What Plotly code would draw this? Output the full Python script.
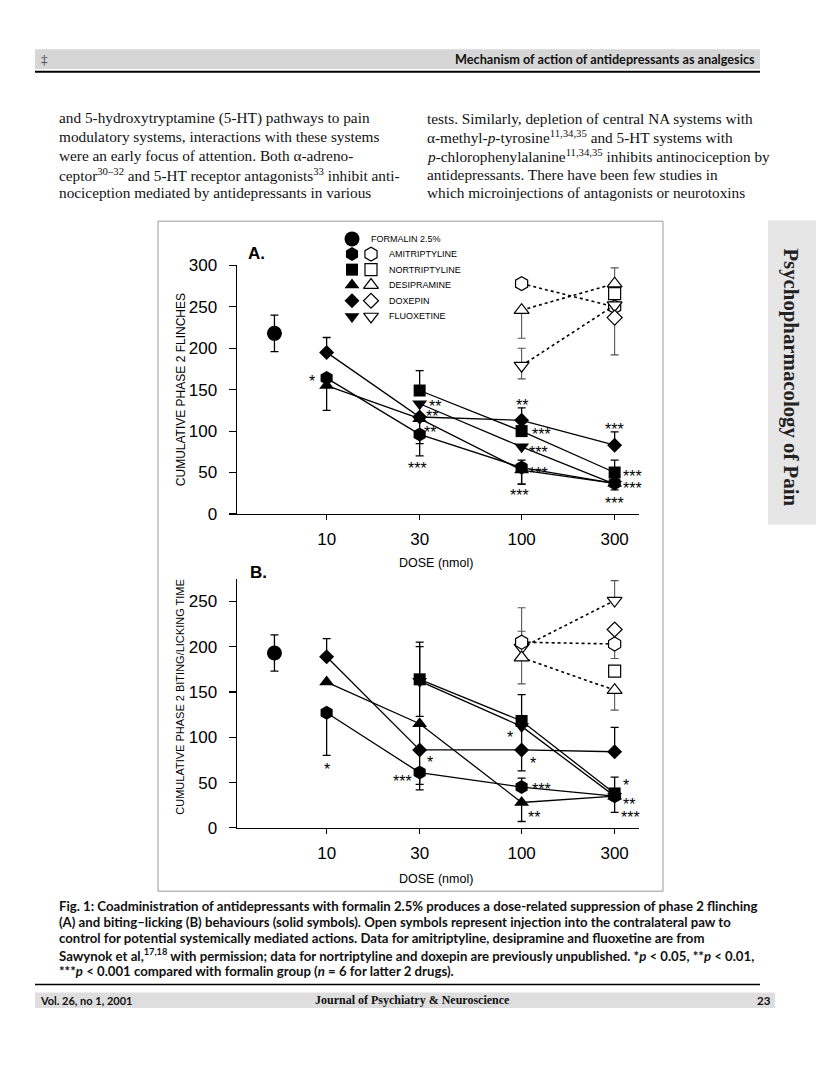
import math
import plotly.graph_objects as go

# ---------------- data ----------------
dose_ticks = [10, 30, 100, 300]
dose_ticktext = ["10", "30", "100", "300"]
formalin_pos = [5.4]          # formalin-only group plotted left of 10 nmol

formalin_a = [218]; formalin_a_err = [22]
formalin_b = [193]; formalin_b_err = [20]

doses4 = [10, 30, 100, 300]
doses3 = [30, 100, 300]
contra2 = [100, 300]
contra1 = [300]

# Panel A: cumulative phase 2 flinches (solid = ipsilateral)
ami_a = [164, 96, 56, 37]; ami_a_up = [0, 0, 9, 0];   ami_a_dn = [0, 11, 20, 0]
nor_a = [149, 100, 50];    nor_a_up = [24, 0, 15];    nor_a_dn = [0, 0, 0]
des_a = [155, 115, 53, 37]; des_a_up = [0, 0, 0, 0];  des_a_dn = [30, 45, 17, 8]
dox_a = [195, 117, 113, 83]; dox_a_up = [18, 0, 15, 16]; dox_a_dn = [0, 0, 0, 0]
flu_a = [133, 81, 36];     flu_a_up = [0, 0, 0];      flu_a_dn = [0, 0, 0]

# Panel A open (contralateral)
ami_a_o = [278, 250]; ami_a_o_up = [0, 0];  ami_a_o_dn = [0, 0]
des_a_o = [246, 278]; des_a_o_up = [0, 19]; des_a_o_dn = [34, 0]
flu_a_o = [179, 252]; flu_a_o_up = [21, 0]; flu_a_o_dn = [16, 0]
nor_a_o = [266];      nor_a_o_up = [0];     nor_a_o_dn = [0]
dox_a_o = [237];      dox_a_o_up = [0];     dox_a_o_dn = [45]

# Panel B: cumulative phase 2 biting/licking time
ami_b = [127, 61, 45, 35]; ami_b_up = [0, 0, 10, 0];  ami_b_dn = [47, 19, 0, 0]
nor_b = [164, 118, 38];    nor_b_up = [41, 29, 18];   nor_b_dn = [41, 0, 0]
des_b = [161, 115, 28, 35]; des_b_up = [0, 0, 0, 0];  des_b_dn = [0, 30, 21, 0]
dox_b = [189, 86, 86, 84]; dox_b_up = [20, 0, 0, 27]; dox_b_dn = [0, 38, 23, 0]
flu_b = [162, 112, 35];    flu_b_up = [38, 0, 0];     flu_b_dn = [0, 26, 18]

ami_b_o = [205, 203]; ami_b_o_up = [38, 0]; ami_b_o_dn = [0, 16]
des_b_o = [188, 152]; des_b_o_up = [0, 0];  des_b_o_dn = [29, 22]
flu_b_o = [199, 251]; flu_b_o_up = [18, 22]; flu_b_o_dn = [0, 0]
nor_b_o = [173];      nor_b_o_up = [0];     nor_b_o_dn = [0]
dox_b_o = [219];      dox_b_o_up = [0];     dox_b_o_dn = [0]

# significance stars: dose, value, label, horizontal shift (px)
stars_a_dose = [10, 30, 30, 30, 30, 100, 100, 100, 100, 100, 300, 300, 300, 300]
stars_a_val = [163, 133, 121, 102, 59, 135, 100, 78, 52, 26, 106, 49, 34, 16]
stars_a_txt = ["*", "**", "**", "**", "***", "**", "***", "***", "***", "***", "***", "***", "***", "***"]
stars_a_dx = [-15, 15, 12, 10, -2, 0, 20, 17, 17, -2, 0, 18, 18, 0]

stars_b_dose = [10, 30, 30, 100, 100, 100, 100, 300, 300, 300]
stars_b_val = [68, 76, 54, 103, 74, 46, 15, 50, 29, 15]
stars_b_txt = ["*", "*", "***", "*", "*", "***", "**", "*", "**", "***"]
stars_b_dx = [0, 10, -17, -12, 11, 20, 12, 11, 14, 16]

legend_names = ["FORMALIN 2.5%", "AMITRIPTYLINE", "NORTRIPTYLINE", "DESIPRAMINE", "DOXEPIN", "FLUOXETINE"]
legend_symbols = ["circle", "hexagon", "square", "triangle-up", "diamond", "triangle-down"]
sizes = {"circle": 15, "hexagon": 14, "square": 12, "triangle-up": 13, "diamond": 11.5, "triangle-down": 13}

# ---------------- page geometry (pixels) ----------------
W, H = 816, 1080
def px(x):
    return x / W
def py(y):
    return 1 - y / H

AX_L, AX_R = 237, 639
A_TOP, A_BOT = 261, 514
B_TOP, B_BOT = 580, 833.5
xrange_log = [math.log10(3.47), math.log10(400)]

fig = go.Figure()
SANS = "Liberation Sans, Arial, sans-serif"

def series(x, y, up, dn, sym, xa, ya, open_=False):
    fig.add_trace(go.Scatter(
        x=x, y=y, mode="lines+markers", xaxis=xa, yaxis=ya,
        line=dict(color="black", width=1.3 if not open_ else 1.6, dash="dot" if open_ else "solid"),
        marker=dict(symbol=sym, size=sizes[sym],
                    color="white" if open_ else "black",
                    line=dict(color="black", width=1.2 if open_ else 0)),
        error_y=dict(type="data", symmetric=False, array=up, arrayminus=dn,
                     color="#555" if open_ else "black", thickness=1.1 if open_ else 1.3, width=4),
        showlegend=False, hoverinfo="skip", cliponaxis=False))

for xa, ya, fy, fe, sets, opens in [
    ("x", "y", formalin_a, formalin_a_err,
     [(doses3, nor_a, nor_a_up, nor_a_dn, "square"),
      (doses3, flu_a, flu_a_up, flu_a_dn, "triangle-down"),
      (doses4, dox_a, dox_a_up, dox_a_dn, "diamond"),
      (doses4, des_a, des_a_up, des_a_dn, "triangle-up"),
      (doses4, ami_a, ami_a_up, ami_a_dn, "hexagon")],
     [(contra2, ami_a_o, ami_a_o_up, ami_a_o_dn, "hexagon"),
      (contra2, des_a_o, des_a_o_up, des_a_o_dn, "triangle-up"),
      (contra2, flu_a_o, flu_a_o_up, flu_a_o_dn, "triangle-down"),
      (contra1, nor_a_o, nor_a_o_up, nor_a_o_dn, "square"),
      (contra1, dox_a_o, dox_a_o_up, dox_a_o_dn, "diamond")]),
    ("x2", "y2", formalin_b, formalin_b_err,
     [(doses3, nor_b, nor_b_up, nor_b_dn, "square"),
      (doses3, flu_b, flu_b_up, flu_b_dn, "triangle-down"),
      (doses4, dox_b, dox_b_up, dox_b_dn, "diamond"),
      (doses4, des_b, des_b_up, des_b_dn, "triangle-up"),
      (doses4, ami_b, ami_b_up, ami_b_dn, "hexagon")],
     [(contra2, flu_b_o, flu_b_o_up, flu_b_o_dn, "triangle-down"),
      (contra2, ami_b_o, ami_b_o_up, ami_b_o_dn, "hexagon"),
      (contra2, des_b_o, des_b_o_up, des_b_o_dn, "triangle-up"),
      (contra1, nor_b_o, nor_b_o_up, nor_b_o_dn, "square"),
      (contra1, dox_b_o, dox_b_o_up, dox_b_o_dn, "diamond")]),
]:
    for s in opens:
        series(*s, xa, ya, open_=True)
    for s in sets:
        series(*s, xa, ya)
    series(formalin_pos, fy, fe, fe, "circle", xa, ya)

# legend keys drawn on a full-page overlay axis (pixel units)
leg_rows = [234, 249.5, 265.3, 281, 297, 313]
leg_text_x = [369, 387, 387, 387, 387, 387]
for i, (nm, sym) in enumerate(zip(legend_names, legend_symbols)):
    fig.add_trace(go.Scatter(x=[352], y=[leg_rows[i]], mode="markers", xaxis="x3", yaxis="y3",
                             marker=dict(symbol=sym, size=sizes[sym], color="black", line=dict(width=0)),
                             showlegend=False, hoverinfo="skip", cliponaxis=False))
    if i > 0:
        fig.add_trace(go.Scatter(x=[371], y=[leg_rows[i]], mode="markers", xaxis="x3", yaxis="y3",
                                 marker=dict(symbol=sym, size=sizes[sym], color="white",
                                             line=dict(color="black", width=1.2)),
                                 showlegend=False, hoverinfo="skip", cliponaxis=False))

ann = []
def txt(x, y, s, size, family=SANS, xanchor="left", color="black", angle=0, yanchor="middle"):
    ann.append(dict(x=x, y=y, xref="x3", yref="y3", text=s, showarrow=False,
                    xanchor=xanchor, yanchor=yanchor, textangle=angle,
                    font=dict(size=size, family=family, color=color)))

for i, nm in enumerate(legend_names):
    txt(leg_text_x[i], leg_rows[i], nm, 9)

for d, v, t, dx in zip(stars_a_dose, stars_a_val, stars_a_txt, stars_a_dx):
    ann.append(dict(x=math.log10(d), y=v, xref="x", yref="y", text=t, showarrow=False,
                    xshift=dx, yshift=-3, font=dict(size=16, family=SANS, color="black")))
for d, v, t, dx in zip(stars_b_dose, stars_b_val, stars_b_txt, stars_b_dx):
    ann.append(dict(x=math.log10(d), y=v, xref="x2", yref="y2", text=t, showarrow=False,
                    xshift=dx, yshift=-3, font=dict(size=16, family=SANS, color="black")))

# panel labels & axis titles
txt(246, 249, "<b>A.</b>", 17)
txt(248, 574, "<b>B.</b>", 17)
txt(181, 388, "CUMULATIVE PHASE 2 FLINCHES", 12, xanchor="center", angle=-90)
txt(180, 700, "CUMULATIVE PHASE 2 BITING/LICKING TIME", 11, xanchor="center", angle=-90)
txt(436, 564, "DOSE (nmol)", 12.5, xanchor="center")
txt(436, 886, "DOSE (nmol)", 12.5, xanchor="center")

# page text
SERIF = "Liberation Serif, Times New Roman, serif"
CAP = "Lato, Open Sans, sans-serif"
left_col = [
    "and 5-hydroxytryptamine (5-HT) pathways to pain",
    "modulatory systems, interactions with these systems",
    "were an early focus of attention. Both \u03b1-adreno-",
    "ceptor<sup>30\u201332</sup> and 5-HT receptor antagonists<sup>33</sup> inhibit anti-",
    "nociception mediated by antidepressants in various",
]
right_col = [
    "tests. Similarly, depletion of central NA systems with",
    "\u03b1-methyl-<i>p</i>-tyrosine<sup>11,34,35</sup> and 5-HT systems with",
    "<i>p</i>-chlorophenylalanine<sup>11,34,35</sup> inhibits antinociception by",
    "antidepressants. There have been few studies in",
    "which microinjections of antagonists or neurotoxins",
]
body_y = [111, 130, 149, 168, 187]
for yy, s in zip(body_y, left_col):
    txt(57, yy, s, 15.3, family=SERIF, color="#111")
for yy, s in zip(body_y, right_col):
    txt(425, yy, s, 15.3, family=SERIF, color="#111")

caption = [
    "Fig. 1: Coadministration of antidepressants with formalin 2.5% produces a dose-related suppression of phase 2 flinching",
    "(A) and biting\u2013licking (B) behaviours (solid symbols). Open symbols represent injection into the contralateral paw to",
    "control for potential systemically mediated actions. Data for amitriptyline, desipramine and fluoxetine are from",
    "Sawynok et al,<sup>17,18</sup> with permission; data for nortriptyline and doxepin are previously unpublished. *<i>p</i> &lt; 0.05, **<i>p</i> &lt; 0.01,",
    "***<i>p</i> &lt; 0.001 compared with formalin group (<i>n</i> = 6 for latter 2 drugs).",
]
cap_y = [913, 929.5, 946, 962.5, 979]
for yy, s in zip(cap_y, caption):
    txt(57, yy, "<b>" + s + "</b>", 13.2, family=CAP, color="#111")

txt(757, 51, "<b>Mechanism of action of antidepressants as analgesics</b>", 12.7, family=CAP, xanchor="right", color="#111")
txt(44, 51, "\u2021", 13, family=SERIF, xanchor="center", color="#333")
txt(38, 1009, "<b>Vol. 26, no 1, 2001</b>", 11, family=CAP, color="#111")
txt(412, 1009, "<b>Journal of Psychiatry &amp; Neuroscience</b>", 12, family=SERIF, xanchor="center", color="#111")
txt(773, 1009, "<b>23</b>", 11.5, family=CAP, xanchor="right", color="#111")
txt(791, 375, "<b>Psychopharmacology of Pain</b>", 20.8, family=SERIF, xanchor="center", angle=90, color="#222")

shapes = [
    dict(type="rect", xref="x3", yref="y3", x0=35, x1=760, y0=41, y1=61, fillcolor="#d6d6d6",
         line=dict(width=0), layer="below"),
    dict(type="line", xref="x3", yref="y3", x0=35, x1=760, y0=64, y1=64, line=dict(color="black", width=2)),
    dict(type="rect", xref="x3", yref="y3", x0=158, x1=663, y0=216, y1=898,
         line=dict(color="#9a9a9a", width=1), layer="below"),
    dict(type="line", xref="x3", yref="y3", x0=35, x1=760, y0=993, y1=993, line=dict(color="black", width=1.5)),
    dict(type="rect", xref="x3", yref="y3", x0=35, x1=775, y0=1001, y1=1017, fillcolor="#dedede",
         line=dict(width=0), layer="below"),
    dict(type="rect", xref="x3", yref="y3", x0=768, x1=816, y0=215, y1=525, fillcolor="#e6e6e6",
         line=dict(width=0), layer="below"),
]

xcommon = dict(type="log", range=xrange_log, tickvals=dose_ticks, ticktext=dose_ticktext,
               ticks="outside", ticklen=5, tickwidth=1.2, tickcolor="black",
               showline=True, linecolor="black", linewidth=1.4, showgrid=False, zeroline=False,
               tickfont=dict(size=17, family=SANS, color="black"), fixedrange=True,
               domain=[px(AX_L), px(AX_R)], ticklabelstandoff=4)
ycommon = dict(ticks="outside", ticklen=7, tickwidth=1.2, tickcolor="black",
               showline=True, linecolor="black", linewidth=1.4, showgrid=False, zeroline=False,
               tickfont=dict(size=17, family=SANS, color="black"), fixedrange=True,
               ticklabelstandoff=8)

fig.update_layout(
    width=W, height=H, margin=dict(l=0, r=0, t=0, b=0),
    paper_bgcolor="white", plot_bgcolor="rgba(0,0,0,0)",
    xaxis=dict(**xcommon, anchor="y"),
    yaxis=dict(**ycommon, range=[0, 300], tickvals=[0, 50, 100, 150, 200, 250, 300],
               domain=[py(A_BOT), py(A_TOP)], anchor="x"),
    xaxis2=dict(**xcommon, anchor="y2"),
    yaxis2=dict(**ycommon, range=[0, 275], tickvals=[0, 50, 100, 150, 200, 250],
                domain=[py(B_BOT), py(B_TOP)], anchor="x2"),
    xaxis3=dict(range=[0, W], domain=[0, 1], visible=False, fixedrange=True, anchor="y3"),
    yaxis3=dict(range=[H, 0], domain=[0, 1], visible=False, fixedrange=True, anchor="x3"),
    annotations=ann, shapes=shapes, showlegend=False,
)

fig.write_html("out.html", config={"displayModeBar": False, "staticPlot": True},
               post_script="document.body.style.margin='0px';document.body.style.overflow='hidden';")
